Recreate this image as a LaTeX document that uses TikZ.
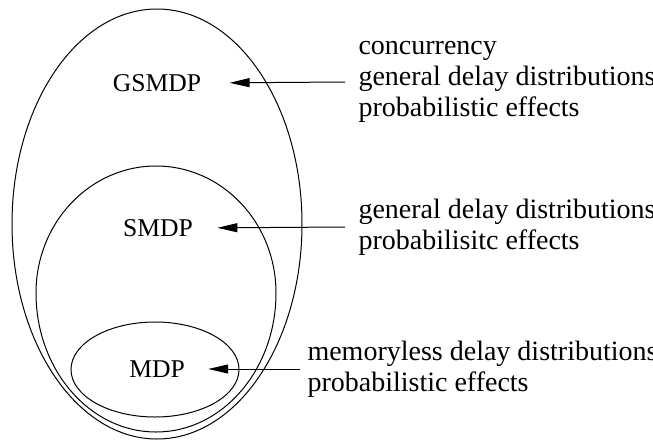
\documentclass[tikz,border=0pt]{standalone}
\usepackage{fontspec}
\setmainfont{Liberation Serif}
\usetikzlibrary{arrows.meta}
\begin{document}
\begin{tikzpicture}[x=0.5pt,y=0.5pt,line width=0.5pt,
  setname/.style={inner sep=0pt,font=\fontsize{12.8}{14}\selectfont},
  props/.style={anchor=west,align=left,inner ysep=0pt,font=\fontsize{14}{15.5}\selectfont},
  pointer/.style={-{Triangle[length=10pt,width=4.5pt]}}]
  \useasboundingbox (0,0) rectangle (653,441);
  % nested classes
  \draw (157,217) ellipse [x radius=145, y radius=215];
  \draw (36,148) arc [start angle=180, end angle=0, x radius=120, y radius=127]
        arc [start angle=0, end angle=-180, x radius=120, y radius=139] -- cycle;
  \draw (155,71.5) ellipse [x radius=84, y radius=47.5];
  % class names
  \node[setname] (gsmdp) at (157,358) {GSMDP};
  \node[setname] (smdp) at (158,213) {SMDP};
  \node[setname] (mdp) at (157,72) {MDP};
  % properties
  \node[props,inner xsep=6.5pt] (pg) at (345,359) {concurrency\\general delay distributions\\probabilistic effects};
  \node[props,inner xsep=6.5pt] (ps) at (345,214) {general delay distributions\\probabilisitc effects};
  \node[props,inner xsep=3.5pt] (pm) at (300,72) {memoryless delay distributions\\probabilistic effects};
  % arrows
  \draw[pointer,shorten >=14pt] (pg.west) -- (gsmdp.east);
  \draw[pointer,shorten >=12pt] (ps.west) -- (smdp.east);
  \draw[pointer,shorten >=11.5pt] (pm.west) -- (mdp.east);
\end{tikzpicture}
\end{document}
